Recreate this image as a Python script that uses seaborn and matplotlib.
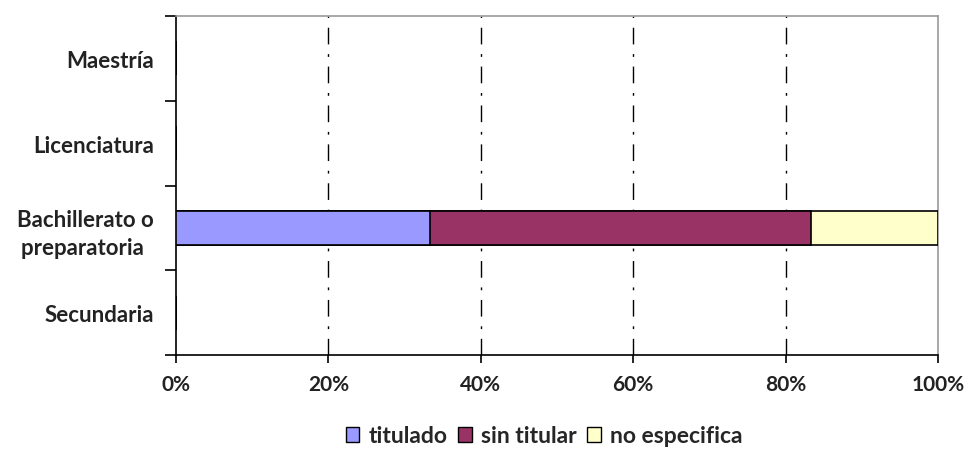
import pandas as pd
import numpy as np
import matplotlib
matplotlib.use("Agg")
import matplotlib.pyplot as plt
import seaborn as sns
from matplotlib.patches import Patch

# ---- data (percent of people per level) ----
levels = ["Maestría", "Licenciatura", "Bachillerato o\npreparatoria ", "Secundaria"]
titulado = [0, 0, 33.3, 0]
sin_titular = [0, 0, 50.0, 0]
no_especifica = [0, 0, 16.7, 0]
series_names = ["titulado", "sin titular", "no especifica"]
series_colors = ["#9999FF", "#993366", "#FFFFCC"]
xticks = [0, 20, 40, 60, 80, 100]
xtick_labels = ["0%", "20%", "40%", "60%", "80%", "100%"]

sns.set_style("white")
plt.rcParams["font.family"] = ["Lato", "DejaVu Sans"]

df = pd.DataFrame({"nivel": levels, "titulado": titulado,
                   "sin titular": sin_titular, "no especifica": no_especifica})
# cumulative sums -> draw longest first so the stack shows
cum = df[series_names].cumsum(axis=1)

fig = plt.figure(figsize=(9.68, 4.60), dpi=100)
ax = fig.add_axes([176 / 968, 104 / 460, (938 - 176) / 968, (356 - 17) / 460])

for name, color in reversed(list(zip(series_names, series_colors))):
    sns.barplot(x=cum[name], y=df["nivel"], order=levels, color=color,
                edgecolor="black", linewidth=1.2, width=0.4, orient="h",
                saturation=1, ax=ax, zorder=3)

ax.set_xlim(0, 100)
ax.set_ylim(3.5, -0.5)
ax.set_xlabel("")
ax.set_ylabel("")

# grid: dash-dot verticals
for xv in xticks[1:-1]:
    ax.axvline(xv, color="black", lw=1.0, dashes=(12, 7, 2, 7), zorder=1)

ax.set_xticks(xticks)
ax.set_xticklabels(xtick_labels, fontsize=15, fontweight="bold", color="#222222")
ax.tick_params(axis="x", bottom=True, direction="out", length=6, width=1.2,
               color="black", pad=8)

# y: ticks at boundaries, labels at centres
ax.set_yticks(np.arange(-0.5, 4, 1))
ax.set_yticklabels([])
ax.set_yticks(range(len(levels)), minor=True)
ax.set_yticklabels(levels, minor=True, fontsize=16, fontweight="bold",
                   color="#222222", ha="right", multialignment="center",
                   linespacing=1.4)
ax.tick_params(axis="y", which="major", left=True, direction="out", length=8,
               width=1.2, color="black")
ax.tick_params(axis="y", which="minor", left=True, length=0, pad=16)

for side in ["left", "bottom"]:
    ax.spines[side].set_color("black")
    ax.spines[side].set_linewidth(1.2)
for side in ["top", "right"]:
    ax.spines[side].set_color("#999999")
    ax.spines[side].set_linewidth(1.2)
    ax.spines[side].set_visible(True)

handles = [Patch(facecolor=c, edgecolor="black", linewidth=1) for c in series_colors]
fig.legend(handles, series_names, loc="center", bbox_to_anchor=(0.562, 0.05), ncol=3,
           frameon=False, handlelength=0.6, handleheight=0.6,
           handletextpad=0.4, columnspacing=0.45, prop={"weight": "bold", "size": 16.5})

fig.savefig("out.png", dpi=100)
